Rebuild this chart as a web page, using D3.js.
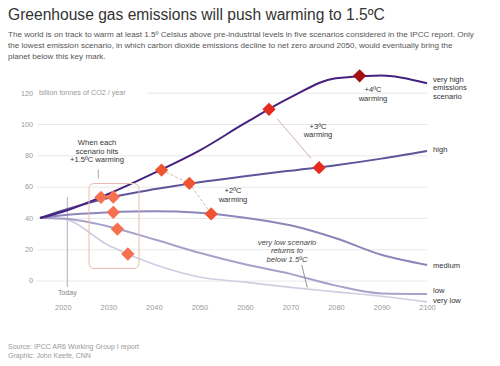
<!DOCTYPE html>
<html>
<head>
<meta charset="utf-8">
<script src="https://cdn.jsdelivr.net/npm/d3@7"></script>
<style>
  html, body { margin: 0; padding: 0; background: #fff; }
  svg { display: block; font-family: "Liberation Sans", Arial, sans-serif; }
</style>
</head>
<body>
<svg id="chart" width="500" height="366"></svg>
<script>
// ---------- DATA ----------
const years      = [2015, 2020, 2030, 2040, 2050, 2060, 2070, 2080, 2090, 2100];
const veryHigh   = [40, 44, 55.3, 68.6, 83, 100.5, 117, 129.3, 131, 126];
const high       = [40, 44.8, 52.8, 58.3, 62.8, 66.6, 70.2, 73.7, 77.9, 82.8];
const medium     = [40, 41.8, 43.6, 44.3, 43.4, 40.2, 35.3, 27, 16.5, 10];
const low        = [40, 39.6, 34.6, 26.4, 17.8, 10.4, 4.3, -3.2, -8.2, -8.6];
const veryLow    = [40, 39.4, 22.6, 10.4, 2.3, -1, -4.3, -7.2, -10, -13.6];
const seriesNames = ["very high", "high", "medium", "low", "very low"];
const seriesValues = [veryHigh, high, medium, low, veryLow];

const yTicks = [0, 20, 40, 60, 80, 100, 120];
const xTicks = [2020, 2030, 2040, 2050, 2060, 2070, 2080, 2090, 2100];

// warming markers: [year, value]
const warm15Years  = [2028.4, 2031.1, 2031.1, 2032.0, 2034.3];
const warm15Values = [53.2, 53.4, 43.6, 32.9, 17.0];
const warm2Years   = [2041.7, 2047.8, 2052.6];
const warm2Values  = [70.6, 62.1, 42.6];
const warm3Years   = [2065.3, 2076.3];
const warm3Values  = [109.4, 72.1];
const warm4Years   = [2085.2];
const warm4Values  = [130.8];

const todayYear = 2021;

// ---------- STYLE ----------
const lineColors = ["#45227f", "#5e5499", "#8d86b9", "#a7a2cb", "#d0cce3"];
const lineWidths = [2, 2, 2, 2, 1.6];

const svg = d3.select("#chart");

const x = d3.scaleLinear().domain([2015, 2100]).range([40, 427]);
const y = d3.scaleLinear().domain([0, 120]).range([280.6, 92.7]);

// Title & subtitle
svg.append("text").attr("x", 8).attr("y", 20)
  .attr("font-size", 15.6).attr("fill", "#333").attr("font-weight", 300)
  .text("Greenhouse gas emissions will push warming to 1.5ºC");

const sub = [
  "The world is on track to warm at least 1.5º Celsius above pre-industrial levels in five scenarios considered in the IPCC report. Only",
  "the lowest emission scenario, in which carbon dioxide emissions decline to net zero around 2050, would eventually bring the",
  "planet below this key mark."
];
svg.append("g").selectAll("text").data(sub).join("text")
  .attr("x", 8).attr("y", (d, i) => 36.5 + i * 11)
  .attr("font-size", 8.1).attr("fill", "#555")
  .text(d => d);

// Y axis with gridlines
const yAxis = d3.axisLeft(y).tickValues(yTicks).tickSize(-(427 - 37)).tickPadding(4);
const gy = svg.append("g").attr("transform", "translate(37,0)").call(yAxis);
gy.select(".domain").remove();
gy.selectAll(".tick line").attr("stroke", "#e8e8e8").attr("stroke-width", 1);
gy.selectAll(".tick text").attr("fill", "#999").attr("font-size", 7.2)
  .attr("font-family", "Liberation Sans, Arial, sans-serif");

// unit label with white background on the 120 line
svg.append("rect").attr("x", 37).attr("y", y(120) - 5).attr("width", 110).attr("height", 10).attr("fill", "#fff");
svg.append("text").attr("x", 39).attr("y", y(120) + 2.6)
  .attr("font-size", 7.2).attr("fill", "#999")
  .text("billion tonnes of CO2 / year");

// X axis labels
const xAxis = d3.axisBottom(x).tickValues(xTicks).tickSize(0).tickPadding(0).tickFormat(d3.format("d"));
const gx = svg.append("g").attr("transform", "translate(0,305)").call(xAxis);
gx.select(".domain").remove();
gx.selectAll(".tick text").attr("fill", "#999").attr("font-size", 7.4)
  .attr("font-family", "Liberation Sans, Arial, sans-serif");

// Today line
svg.append("line")
  .attr("x1", x(todayYear)).attr("x2", x(todayYear))
  .attr("y1", 197).attr("y2", 287)
  .attr("stroke", "#b0aec0").attr("stroke-width", 1);
svg.append("text").attr("x", x(todayYear)).attr("y", 295)
  .attr("text-anchor", "middle").attr("font-size", 7).attr("fill", "#888")
  .text("Today");

// Lines (draw lightest first)
const line = d3.line().x(d => x(d[0])).y(d => y(d[1])).curve(d3.curveMonotoneX);
const order = [4, 3, 2, 1, 0];
order.forEach(i => {
  const pts = years.map((yr, j) => [yr, seriesValues[i][j]]);
  svg.append("path").datum(pts)
    .attr("d", line).attr("fill", "none")
    .attr("stroke", lineColors[i]).attr("stroke-width", lineWidths[i])
    .attr("stroke-linejoin", "round");
});

// Box around 1.5 markers
svg.append("rect").attr("x", 89).attr("y", 183.5).attr("width", 50).attr("height", 85)
  .attr("rx", 5).attr("fill", "none").attr("stroke", "#e9bcb0").attr("stroke-width", 1);
svg.append("line").attr("x1", 98.3).attr("x2", 98.3).attr("y1", 169.5).attr("y2", 178.5)
  .attr("stroke", "#aaa").attr("stroke-width", 1);
const lab15 = ["When each", "scenario hits", "+1.5ºC warming"];
svg.append("g").selectAll("text").data(lab15).join("text")
  .attr("x", 97).attr("y", (d, i) => 145 + i * 8.6)
  .attr("text-anchor", "middle").attr("font-size", 7.6).attr("fill", "#333")
  .text(d => d);

// connector lines
const pairs = (ys, vs) => ys.map((yr, i) => [x(yr), y(vs[i])]);
const p2 = pairs(warm2Years, warm2Values);
svg.append("path").attr("d", d3.line()(p2)).attr("fill", "none")
  .attr("stroke", "#d9b5a3").attr("stroke-width", 1).attr("stroke-dasharray", "3,2");
const p3 = pairs(warm3Years, warm3Values);
svg.append("line")
  .attr("x1", p3[0][0] + 0.16 * (p3[1][0] - p3[0][0])).attr("y1", p3[0][1] + 0.16 * (p3[1][1] - p3[0][1]))
  .attr("x2", p3[0][0] + 0.84 * (p3[1][0] - p3[0][0])).attr("y2", p3[0][1] + 0.84 * (p3[1][1] - p3[0][1]))
  .attr("stroke", "#c9a89a").attr("stroke-width", 0.9);

// diamonds
const diamond = (ys, vs, color, r) => {
  svg.append("g").selectAll("rect").data(ys.map((yr, i) => [yr, vs[i]])).join("rect")
    .attr("x", -r).attr("y", -r).attr("width", 2 * r).attr("height", 2 * r)
    .attr("transform", d => `translate(${x(d[0])},${y(d[1])}) rotate(45)`)
    .attr("fill", color);
};
diamond(warm15Years, warm15Values, "#f5714f", 4.7);
diamond(warm2Years, warm2Values, "#f0532f", 4.7);
diamond(warm3Years, warm3Values, "#e42b1c", 4.7);
diamond(warm4Years, warm4Values, "#a40f12", 4.7);

// warming labels
const wLabel = (cx, cy, lines) => {
  svg.append("g").selectAll("text").data(lines).join("text")
    .attr("x", cx).attr("y", (d, i) => cy + i * 8.6)
    .attr("text-anchor", "middle").attr("font-size", 7.6).attr("fill", "#333")
    .text(d => d);
};
wLabel(233, 193, ["+2ºC", "warming"]);
wLabel(318, 128.5, ["+3ºC", "warming"]);
wLabel(373, 92, ["+4ºC", "warming"]);

// very low annotation
svg.append("g").selectAll("text").data(["very low scenario", "returns to", "below 1.5ºC"]).join("text")
  .attr("x", 287).attr("y", (d, i) => 245 + i * 8.4)
  .attr("text-anchor", "middle").attr("font-size", 7.6).attr("fill", "#444")
  .attr("font-style", "italic")
  .text(d => d);
svg.append("line").attr("x1", 301.7).attr("y1", 265).attr("x2", 307.3).attr("y2", 287.5)
  .attr("stroke", "#888").attr("stroke-width", 0.9);

// series end labels
const endLabels = [
  {lines: ["very high", "emissions", "scenario"], y0: 81.5},
  {lines: ["high"], y0: 151.5},
  {lines: ["medium"], y0: 267.5},
  {lines: ["low"], y0: 292.5},
  {lines: ["very low"], y0: 302.5}
];
endLabels.forEach(l => {
  svg.append("g").selectAll("text").data(l.lines).join("text")
    .attr("x", 433).attr("y", (d, i) => l.y0 + i * 8.5)
    .attr("font-size", 7.6).attr("fill", "#333")
    .text(d => d);
});

// source
svg.append("text").attr("x", 8).attr("y", 348.5).attr("font-size", 7).attr("fill", "#999")
  .text("Source: IPCC AR6 Working Group I report");
svg.append("text").attr("x", 8).attr("y", 357.5).attr("font-size", 7).attr("fill", "#999")
  .text("Graphic: John Keefe, CNN");
</script>
</body>
</html>
